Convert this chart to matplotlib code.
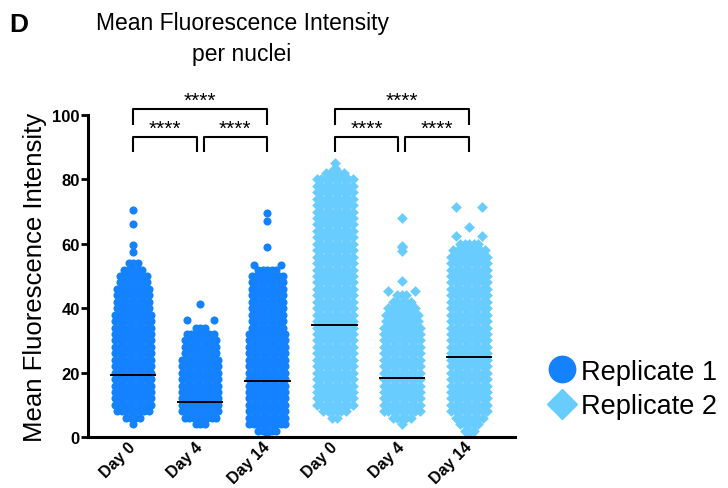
import numpy as np
import matplotlib as mpl
mpl.use('Agg')
import matplotlib.pyplot as plt
from matplotlib.lines import Line2D

plt.rcParams['font.family'] = ['Liberation Sans', 'DejaVu Sans']

groups = ['Day 0', 'Day 4', 'Day 14', 'Day 0', 'Day 4', 'Day 14']
replicate = [1, 1, 1, 2, 2, 2]

# rows of the swarm: y level -> number of dots in that row
levels = list(range(0, 84, 2))
counts = [
    [0, 0, 1, 4, 8] + [9] * 15 + [8, 8, 8, 8, 7, 7, 5, 3] + [0] * 14,
    [0, 0, 3, 8] + [9] * 9 + [8, 8, 8, 7, 3] + [0] * 24,
    [1, 5, 9] + [9] * 14 + [8] * 8 + [8, 5] + [0] * 15,
    [0, 0, 0, 2, 6] + [9] * 36 + [5],
    [0, 0, 1, 5] + [9] * 14 + [8, 8, 7, 5, 3] + [0] * 19,
    [1, 3, 5, 7] + [9] * 25 + [8, 5] + [0] * 11,
]
# sparse points above the dense body
sparse = [
    [57.5, 59.5, 66, 70.5],
    [36.5, 36.5, 41.2],
    [53.5, 53.5, 59, 67, 69.5],
    [83.5, 85],
    [45.5, 45.5, 48.5, 57.8, 59, 59.4, 68],
    [62.5, 62.5, 65.2, 71.4, 71.4],
]
means = [19.3, 10.8, 17.5, 34.9, 18.3, 25.0]

colors = {1: '#1482FF', 2: '#68CCFF'}
markers = {1: 'o', 2: 'D'}
sizes = {1: 34, 2: 30}


def swarm(center, cnts, extra, spacing=0.067, spread=0.2):
    xs, ys = [], []
    for y, n in zip(levels, cnts):
        offs = (np.arange(n) - (n - 1) / 2) * spacing
        xs.extend(center + offs)
        ys.extend([y] * n)
    vals, reps = np.unique(extra, return_counts=True)
    for v, k in zip(vals, reps):
        offs = np.linspace(-spread, spread, k) if k > 1 else [0.0]
        xs.extend(center + np.asarray(offs))
        ys.extend([v] * k)
    return xs, ys


fig = plt.figure(figsize=(7.28, 4.89), dpi=100)
ax = fig.add_axes([0.121, 0.104, 0.586, 0.659])

for i in range(len(groups)):
    r = replicate[i]
    xs, ys = swarm(i, counts[i], sparse[i])
    ax.scatter(xs, ys, s=sizes[r], marker=markers[r], color=colors[r],
               linewidths=0, zorder=2)
    ax.plot([i - 0.33, i + 0.33], [means[i], means[i]], color='black',
            lw=1.4, zorder=3)

# significance brackets
for base in (0, 3):
    kw = dict(color='black', lw=1.5, clip_on=False, solid_capstyle='butt')
    ax.plot([base, base, base + 2, base + 2], [97, 101.9, 101.9, 97], **kw)
    ax.plot([base, base, base + 0.95, base + 0.95], [88.6, 93, 93, 88.6], **kw)
    ax.plot([base + 1.05, base + 1.05, base + 2, base + 2], [88.6, 93, 93, 88.6], **kw)
    for xt, yt in [(base + 1, 104.4), (base + 0.48, 95.8), (base + 1.52, 95.8)]:
        ax.text(xt, yt, '****', ha='center', va='center', fontsize=15,
                clip_on=False)

ax.set_xlim(-0.67, 5.68)
ax.set_ylim(0, 100)
ax.set_yticks([0, 20, 40, 60, 80, 100])
ax.set_xticks(range(len(groups)))
ax.set_xticklabels(groups, rotation=45, ha='right', va='center',
                   rotation_mode='anchor', fontweight='bold', fontsize=11.5)
for lab in ax.get_yticklabels():
    lab.set_fontweight('bold')
ax.tick_params(axis='y', labelsize=12, width=2, length=5, pad=1)
ax.tick_params(axis='x', length=0, pad=5)
for s in ('top', 'right'):
    ax.spines[s].set_visible(False)
for s in ('left', 'bottom'):
    ax.spines[s].set_linewidth(2.2)

ax.set_ylabel('Mean Fluorescence Intensity', fontsize=18.5, labelpad=4)

fig.text(242 / 728, 1 - 39 / 489, 'Mean Fluorescence Intensity\nper nuclei',
         ha='center', va='center', fontsize=16.5, linespacing=1.45)
fig.text(9 / 728, 1 - 25 / 489, 'D', ha='left', va='center', fontsize=19,
         fontweight='bold')

handles = [Line2D([], [], ls='', marker='o', color=colors[1], markersize=19),
           Line2D([], [], ls='', marker='D', color=colors[2], markersize=15)]
fig.legend(handles, ['Replicate 1', 'Replicate 2'], loc='center left',
           bbox_to_anchor=(534 / 728, 1 - 390 / 489), frameon=False,
           fontsize=19.5, handletextpad=0.05, labelspacing=0.3,
           borderaxespad=0, handlelength=1.3)

fig.savefig('out.png', dpi=100)
